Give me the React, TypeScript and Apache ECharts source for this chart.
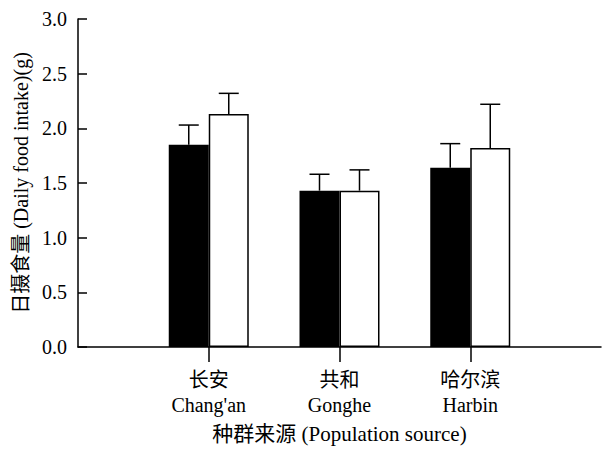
import React, { useEffect, useRef } from "react";
import * as echarts from "echarts";

const categories = ["", "长安\nChang'an", "共和\nGonghe", "哈尔滨\nHarbin", ""];
const blackMeans = [1.85, 1.43, 1.64];
const blackErr = [0.18, 0.15, 0.22];
const whiteMeans = [2.13, 1.43, 1.82];
const whiteErr = [0.19, 0.19, 0.4];
const yTicks = { min: 0, max: 3, interval: 0.5 };

const FONT = "'Liberation Serif', 'Times New Roman', 'Noto Sans CJK SC', serif";

export default function App() {
  const ref = useRef<HTMLDivElement>(null);
  useEffect(() => {
    if (!ref.current) return;
    const chart = echarts.init(ref.current, undefined, { renderer: "svg" });
    const pad = (arr: number[]) => [null, ...arr, null];
    const errData = (means: number[], errs: number[]) =>
      means.map((m, i) => [i + 1, m, m + errs[i]]);
    const makeErr = (offset: number) => (params: any, api: any) => {
      const base = api.coord([api.value(0), api.value(1)]);
      const top = api.coord([api.value(0), api.value(2)]);
      const x = base[0] + offset;
      const style = { stroke: "#000", lineWidth: 1.5 };
      return {
        type: "group",
        children: [
          { type: "line", shape: { x1: x, y1: base[1], x2: x, y2: top[1] }, style },
          { type: "line", shape: { x1: x - 10, y1: top[1], x2: x + 10, y2: top[1] }, style },
        ],
      };
    };
    chart.setOption({
      animation: false,
      textStyle: { fontFamily: FONT },
      grid: { left: 78, right: 0, top: 19, bottom: 99, containLabel: false },
      xAxis: {
        type: "category",
        data: categories,
        boundaryGap: false,
        axisLine: { lineStyle: { color: "#000", width: 1.5 } },
        axisTick: {
          interval: (i: number) => i > 0 && i < 4,
          length: 15,
          lineStyle: { color: "#000", width: 1.5 },
        },
        axisLabel: {
          interval: 0,
          color: "#000",
          fontSize: 20,
          lineHeight: 25,
          margin: 20,
          fontFamily: FONT,
        },
        name: "种群来源 (Population source)",
        nameLocation: "middle",
        nameGap: 76,
        nameTextStyle: { color: "#000", fontSize: 21, fontFamily: FONT },
      },
      yAxis: {
        type: "value",
        min: yTicks.min,
        max: yTicks.max,
        interval: yTicks.interval,
        splitLine: { show: false },
        axisLine: { show: true, lineStyle: { color: "#000", width: 1.5 } },
        axisTick: { show: true, inside: true, length: 9, lineStyle: { color: "#000", width: 1.5 } },
        axisLabel: {
          color: "#000",
          fontSize: 20,
          margin: 11,
          fontFamily: FONT,
          formatter: (v: number) => v.toFixed(1),
        },
        name: "日摄食量 (Daily food intake)(g)",
        nameLocation: "middle",
        nameGap: 46,
        nameTextStyle: { color: "#000", fontSize: 20, fontFamily: FONT },
      },
      series: [
        {
          type: "bar",
          data: pad(blackMeans),
          barWidth: 40,
          barGap: "0%",
          itemStyle: { color: "#000", borderColor: "#000", borderWidth: 1.5 },
        },
        {
          type: "bar",
          data: pad(whiteMeans),
          barWidth: 40,
          barGap: "0%",
          itemStyle: { color: "#fff", borderColor: "#000", borderWidth: 1.5 },
        },
        {
          type: "custom",
          renderItem: makeErr(-20),
          data: errData(blackMeans, blackErr),
          z: 1,
        },
        {
          type: "custom",
          renderItem: makeErr(20),
          data: errData(whiteMeans, whiteErr),
          z: 1,
        },
      ],
    });
    return () => chart.dispose();
  }, []);
  return (
    <div
      ref={ref}
      style={{ position: "fixed", left: 0, top: 0, width: 604, height: 449, background: "#fff" }}
    />
  );
}
